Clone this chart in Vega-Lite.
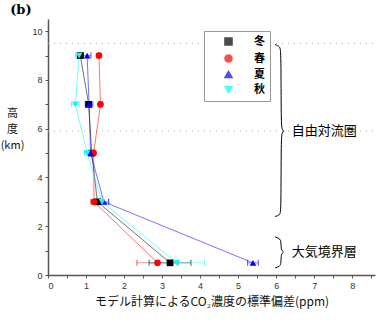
{
  "$schema": "https://vega.github.io/schema/vega-lite/v6.json",
  "width": 327,
  "height": 256,
  "padding": {"left": 0, "top": 4, "right": 0, "bottom": 4},
  "title": {"text": "(b)", "anchor": "start", "frame": "bounds", "font": "DejaVu Serif", "fontWeight": "bold", "fontSize": 13, "offset": 2, "dx": 10, "color": "#000"},
  "config": {"view": {"stroke": null}},
  "datasets": {
    "main": [
      {"season": "冬", "h": 9, "x": 0.85, "err": 0.08},
      {"season": "冬", "h": 7, "x": 1.07, "err": 0.07},
      {"season": "冬", "h": 5, "x": 1.15, "err": 0.06},
      {"season": "冬", "h": 3, "x": 1.30, "err": 0.08},
      {"season": "冬", "h": 0.5, "x": 3.21, "err": 0.55},
      {"season": "春", "h": 9, "x": 1.34, "err": 0.05},
      {"season": "春", "h": 7, "x": 1.38, "err": 0.05},
      {"season": "春", "h": 5, "x": 1.20, "err": 0.05},
      {"season": "春", "h": 3, "x": 1.21, "err": 0.08},
      {"season": "春", "h": 0.5, "x": 2.88, "err": 0.54},
      {"season": "夏", "h": 9, "x": 1.03, "err": 0.1},
      {"season": "夏", "h": 7, "x": 1.08, "err": 0.1},
      {"season": "夏", "h": 5, "x": 1.12, "err": 0.06},
      {"season": "夏", "h": 3, "x": 1.47, "err": 0.12},
      {"season": "夏", "h": 0.5, "x": 5.39, "err": 0.14},
      {"season": "秋", "h": 9, "x": 0.82, "err": 0.1},
      {"season": "秋", "h": 7, "x": 0.72, "err": 0.1},
      {"season": "秋", "h": 5, "x": 1.03, "err": 0.07},
      {"season": "秋", "h": 3, "x": 1.42, "err": 0.2},
      {"season": "秋", "h": 0.5, "x": 3.39, "err": 0.73}
    ],
    "brace": [
      {"b": "free", "i": 1, "x": 5.97, "h": 9.45},
      {"b": "free", "i": 2, "x": 6.1, "h": 9.38},
      {"b": "free", "i": 3, "x": 6.13, "h": 9.15},
      {"b": "free", "i": 4, "x": 6.13, "h": 6.15},
      {"b": "free", "i": 5, "x": 6.16, "h": 5.96},
      {"b": "free", "i": 6, "x": 6.21, "h": 5.9},
      {"b": "free", "i": 7, "x": 6.16, "h": 5.84},
      {"b": "free", "i": 8, "x": 6.13, "h": 5.65},
      {"b": "free", "i": 9, "x": 6.13, "h": 2.65},
      {"b": "free", "i": 10, "x": 6.1, "h": 2.45},
      {"b": "free", "i": 11, "x": 5.97, "h": 2.4},
      {"b": "pbl", "i": 1, "x": 5.97, "h": 1.56},
      {"b": "pbl", "i": 2, "x": 6.1, "h": 1.5},
      {"b": "pbl", "i": 3, "x": 6.13, "h": 1.35},
      {"b": "pbl", "i": 4, "x": 6.13, "h": 1.08},
      {"b": "pbl", "i": 5, "x": 6.16, "h": 0.98},
      {"b": "pbl", "i": 6, "x": 6.21, "h": 0.94},
      {"b": "pbl", "i": 7, "x": 6.16, "h": 0.9},
      {"b": "pbl", "i": 8, "x": 6.13, "h": 0.8},
      {"b": "pbl", "i": 9, "x": 6.13, "h": 0.5},
      {"b": "pbl", "i": 10, "x": 6.1, "h": 0.35},
      {"b": "pbl", "i": 11, "x": 5.97, "h": 0.29}
    ],
    "labels": [
      {"x": 6.41, "h": 5.9, "t": "自由対流圏"},
      {"x": 6.41, "h": 0.94, "t": "大気境界層"}
    ],
    "ref": [{"h": 9.5}, {"h": 5.9}]
  },
  "encoding": {
    "x": {
      "field": "x", "type": "quantitative",
      "scale": {"domain": [0, 8.6], "nice": false},
      "axis": {
        "title": "モデル計算によるCO₂濃度の標準偏差(ppm)",
        "titleFont": "Noto Sans CJK JP", "titleFontSize": 12, "titleFontWeight": "normal", "titleColor": "#111", "titlePadding": 6,
        "values": [0, 0.5, 1, 1.5, 2, 2.5, 3, 3.5, 4, 4.5, 5, 5.5, 6, 6.5, 7, 7.5, 8, 8.5],
        "labelExpr": "datum.value % 1 === 0 ? format(datum.value, 'd') : ''",
        "labelOverlap": false, "labelFont": "Liberation Sans", "labelFontSize": 9, "labelColor": "#333", "labelPadding": 3,
        "grid": false, "tickSize": 3, "tickColor": "#555", "domainColor": "#555", "domainWidth": 1.5
      }
    },
    "y": {
      "field": "h", "type": "quantitative",
      "scale": {"domain": [0, 10.5], "nice": false},
      "axis": {
        "title": ["高", "度", "(km)"],
        "titleAngle": 0, "titleFont": "Noto Sans CJK JP", "titleFontSize": 11, "titleFontWeight": "normal", "titleColor": "#111",
        "titleX": -36, "titleY": 88, "titleAlign": "center", "titleBaseline": "top", "titleLineHeight": 16,
        "values": [0, 1, 2, 3, 4, 5, 6, 7, 8, 9, 10],
        "labelExpr": "datum.value % 2 === 0 ? format(datum.value, 'd') : ''",
        "labelOverlap": false, "labelFont": "Liberation Sans", "labelFontSize": 9, "labelColor": "#333", "labelPadding": 3,
        "grid": false, "tickSize": 3, "tickColor": "#555", "domainColor": "#555", "domainWidth": 1.5
      }
    }
  },
  "layer": [
    {
      "data": {"name": "ref"},
      "mark": {"type": "rule", "color": "#aaa", "strokeDash": [1, 5], "strokeWidth": 1},
      "encoding": {"x": {"value": 0}, "x2": {"value": 327}}
    },
    {
      "data": {"name": "brace"},
      "mark": {"type": "line", "color": "#000", "strokeWidth": 1, "interpolate": "basis"},
      "encoding": {
        "detail": {"field": "b"},
        "order": {"field": "i", "type": "quantitative"}
      }
    },
    {
      "data": {"name": "labels"},
      "mark": {"type": "text", "align": "left", "baseline": "middle", "font": "Noto Sans CJK JP", "fontSize": 13, "color": "#000"},
      "encoding": {"text": {"field": "t"}}
    },
    {
      "data": {"name": "main"},
      "mark": {"type": "errorbar", "ticks": {"size": 6, "strokeOpacity": 0.45}, "rule": {"strokeOpacity": 0.45}},
      "encoding": {
        "xError": {"field": "err"},
        "color": {"field": "season", "type": "nominal"}
      }
    },
    {
      "data": {"name": "main"},
      "mark": {"type": "line", "strokeWidth": 1, "strokeOpacity": 0.55},
      "encoding": {
        "color": {"field": "season", "type": "nominal"},
        "order": {"field": "h", "type": "quantitative"}
      }
    },
    {
      "data": {"name": "main"},
      "mark": {"type": "point", "filled": true, "opacity": 1, "size": 45},
      "encoding": {
        "color": {
          "field": "season", "type": "nominal",
          "scale": {"domain": ["冬", "春", "夏", "秋"], "range": ["#000000", "#ff0000", "#0000ff", "#00ffff"]},
          "legend": {
            "title": null, "orient": "none", "legendX": 156, "legendY": 12,
            "strokeColor": "#999", "fillColor": "#fff", "padding": 5,
            "labelFont": "Noto Sans CJK JP", "labelFontWeight": "bold", "labelFontSize": 11, "labelColor": "#000",
            "symbolSize": 50, "symbolOpacity": 1, "rowPadding": 2, "symbolOffset": 14, "labelOffset": 20
          }
        },
        "shape": {
          "field": "season", "type": "nominal",
          "scale": {"domain": ["冬", "春", "夏", "秋"], "range": ["square", "circle", "triangle-up", "triangle-down"]},
          "legend": {
            "title": null, "orient": "none", "legendX": 156, "legendY": 12,
            "strokeColor": "#999", "fillColor": "#fff", "padding": 5,
            "labelFont": "Noto Sans CJK JP", "labelFontWeight": "bold", "labelFontSize": 11, "labelColor": "#000",
            "symbolSize": 50, "symbolOpacity": 1, "rowPadding": 2, "symbolOffset": 14, "labelOffset": 20
          }
        }
      }
    }
  ]
}
